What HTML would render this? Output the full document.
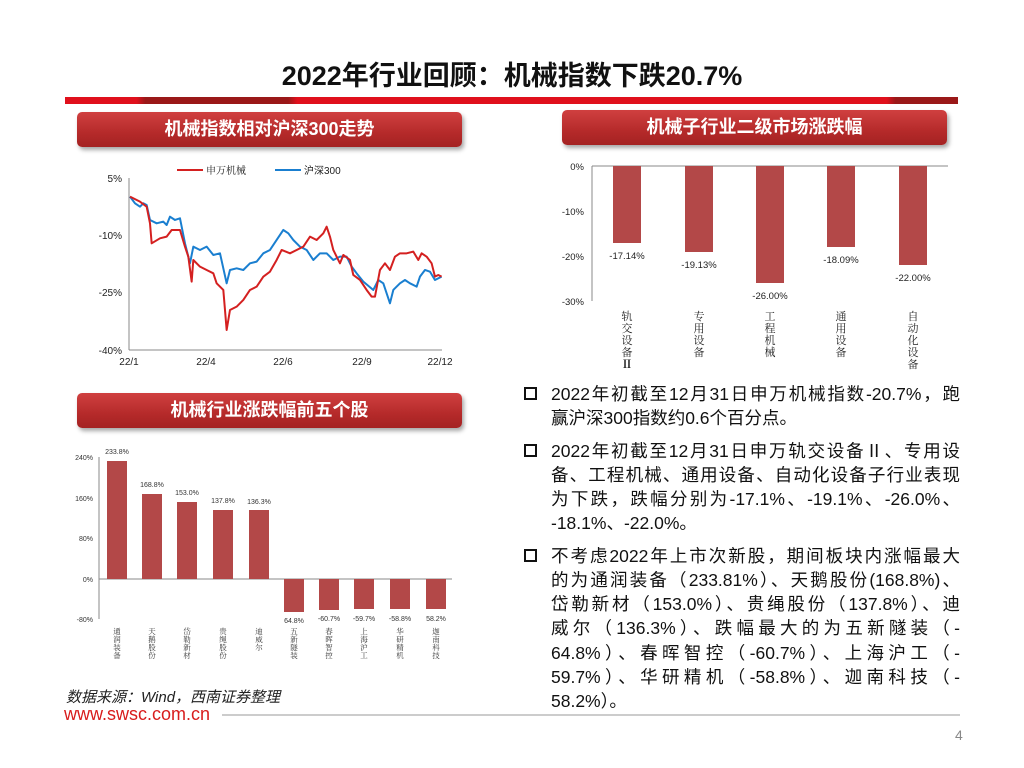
<!DOCTYPE html>
<html><head><meta charset="utf-8"><style>
body{margin:0;width:1024px;height:768px;background:#fff;position:relative;overflow:hidden;font-family:"Liberation Sans","Noto Sans CJK SC",sans-serif}
.a{position:absolute;white-space:nowrap}
.box{position:absolute;height:35px;border-radius:5px;background:linear-gradient(#d04040,#b52a2a 60%,#a42222);box-shadow:2px 3px 4px rgba(0,0,0,.35);color:#fff;font-weight:bold;font-size:18px;text-align:center;line-height:35px}
.ln{position:absolute;left:551px;width:409px;font-size:17.5px;color:#111;line-height:24px;height:24px;text-align:justify;text-align-last:justify;white-space:nowrap}
.ln.l{text-align-last:left}
.bul{position:absolute;left:524px;width:9px;height:9px;border:2px solid #111}
</style></head><body>
<div class="a" style="left:0;width:1024px;top:54px;text-align:center;font-size:27px;font-weight:bold;color:#111">2022年行业回顾：机械指数下跌20.7%</div>
<div class="a" style="left:65px;top:97px;width:893px;height:7px;background:linear-gradient(90deg,#e0101c 0,#e0101c 8%,#9a1818 9%,#9a1818 25%,#e0101c 26%,#e0101c 92%,#9a1818 93%)"></div>

<div class="box" style="left:77px;top:112px;width:385px">机械指数相对沪深300走势</div>
<div class="box" style="left:562px;top:110px;width:385px">机械子行业二级市场涨跌幅</div>
<div class="box" style="left:77px;top:393px;width:385px">机械行业涨跌幅前五个股</div>

<svg class="a" style="left:0;top:0" width="1024" height="768">
<!-- line chart -->
<g font-size="10" fill="#222" font-family="Liberation Sans,sans-serif">
<line x1="129" y1="178" x2="129" y2="350" stroke="#888"/>
<line x1="129" y1="350" x2="442" y2="350" stroke="#888"/>
<text x="122" y="182" text-anchor="end">5%</text>
<text x="122" y="239" text-anchor="end">-10%</text>
<text x="122" y="296" text-anchor="end">-25%</text>
<text x="122" y="354" text-anchor="end">-40%</text>
<text x="129" y="365" text-anchor="middle">22/1</text>
<text x="206" y="365" text-anchor="middle">22/4</text>
<text x="283" y="365" text-anchor="middle">22/6</text>
<text x="362" y="365" text-anchor="middle">22/9</text>
<text x="440" y="365" text-anchor="middle">22/12</text>
<line x1="177" y1="170" x2="203" y2="170" stroke="#d42020" stroke-width="2"/>
<text x="206" y="174" font-family="Noto Serif CJK SC,serif">申万机械</text>
<line x1="275" y1="170" x2="301" y2="170" stroke="#1a7fd0" stroke-width="2"/>
<text x="304" y="174">沪深300</text>
</g>
<g transform="translate(60,90) scale(0.3333)" fill="none" stroke-width="6" stroke-linejoin="round">
<polyline stroke="#1a7fd0" points="210,320 225,340 240,350 250,340 260,345 270,390 290,400 310,395 320,405 330,380 345,390 360,385 375,460 390,520 400,470 420,480 440,470 460,495 480,490 500,580 510,540 530,535 550,540 570,520 590,515 610,490 630,480 650,450 670,420 685,430 700,450 720,470 740,480 760,510 780,490 800,490 820,510 840,500 860,500 875,530 890,550 910,575 940,600 955,570 970,580 990,640 1000,600 1020,580 1035,570 1050,580 1070,590 1080,560 1095,540 1110,545 1125,570 1145,560"/>
<polyline stroke="#d42020" points="210,320 240,335 260,350 270,400 275,460 300,445 320,440 335,420 360,420 375,470 385,500 395,575 400,510 420,530 440,540 460,550 470,580 490,600 500,720 505,690 510,660 530,650 550,630 570,600 590,590 610,560 630,545 650,510 665,480 690,490 710,480 730,470 750,440 770,450 790,430 800,410 810,440 820,480 830,500 840,520 850,495 870,510 880,555 900,570 920,600 935,620 945,620 960,540 975,520 990,540 1005,500 1020,490 1040,490 1060,485 1075,510 1085,490 1100,500 1115,520 1125,560 1135,555 1145,560"/>
</g>

<!-- right bar chart -->
<g font-size="9.5" fill="#222" font-family="Liberation Sans,sans-serif">
<line x1="592" y1="166" x2="592" y2="301" stroke="#888"/>
<line x1="592" y1="166" x2="948" y2="166" stroke="#888"/>
<text x="584" y="170" text-anchor="end">0%</text>
<text x="584" y="215" text-anchor="end">-10%</text>
<text x="584" y="260" text-anchor="end">-20%</text>
<text x="584" y="305" text-anchor="end">-30%</text>
<g fill="#b34848">
<rect x="613" y="166" width="28" height="77"/>
<rect x="685" y="166" width="28" height="86"/>
<rect x="756" y="166" width="28" height="117"/>
<rect x="827" y="166" width="28" height="81"/>
<rect x="899" y="166" width="28" height="99"/>
</g>
<text x="627" y="259" text-anchor="middle">-17.14%</text>
<text x="699" y="268" text-anchor="middle">-19.13%</text>
<text x="770" y="299" text-anchor="middle">-26.00%</text>
<text x="841" y="263" text-anchor="middle">-18.09%</text>
<text x="913" y="281" text-anchor="middle">-22.00%</text>
<g font-size="11" text-anchor="middle" font-family="Noto Serif CJK SC,serif">
<text x="627" y="320">轨</text><text x="627" y="332">交</text><text x="627" y="344">设</text><text x="627" y="356">备</text><text x="627" y="368" font-weight="bold">Ⅱ</text>
<text x="699" y="320">专</text><text x="699" y="332">用</text><text x="699" y="344">设</text><text x="699" y="356">备</text>
<text x="770" y="320">工</text><text x="770" y="332">程</text><text x="770" y="344">机</text><text x="770" y="356">械</text>
<text x="841" y="320">通</text><text x="841" y="332">用</text><text x="841" y="344">设</text><text x="841" y="356">备</text>
<text x="913" y="320">自</text><text x="913" y="332">动</text><text x="913" y="344">化</text><text x="913" y="356">设</text><text x="913" y="368">备</text>
</g>
</g>

<!-- bottom-left bar chart -->
<g font-size="7" fill="#333" font-family="Liberation Sans,sans-serif">
<line x1="99" y1="457" x2="99" y2="619" stroke="#888"/>
<line x1="99" y1="579" x2="452" y2="579" stroke="#888"/>
<text x="93" y="460" text-anchor="end">240%</text>
<text x="93" y="501" text-anchor="end">160%</text>
<text x="93" y="541" text-anchor="end">80%</text>
<text x="93" y="582" text-anchor="end">0%</text>
<text x="93" y="622" text-anchor="end">-80%</text>
<g fill="#b34848">
<rect x="107" y="461" width="20" height="118"/>
<rect x="142" y="494" width="20" height="85"/>
<rect x="177" y="502" width="20" height="77"/>
<rect x="213" y="510" width="20" height="69"/>
<rect x="249" y="510" width="20" height="69"/>
<rect x="284" y="579" width="20" height="33"/>
<rect x="319" y="579" width="20" height="31"/>
<rect x="354" y="579" width="20" height="30"/>
<rect x="390" y="579" width="20" height="30"/>
<rect x="426" y="579" width="20" height="30"/>
</g>
<g text-anchor="middle">
<text x="117" y="454">233.8%</text>
<text x="152" y="487">168.8%</text>
<text x="187" y="495">153.0%</text>
<text x="223" y="503">137.8%</text>
<text x="259" y="504">136.3%</text>
<text x="294" y="623">64.8%</text>
<text x="329" y="621">-60.7%</text>
<text x="364" y="621">-59.7%</text>
<text x="400" y="621">-58.8%</text>
<text x="436" y="621">58.2%</text>
</g>
<g text-anchor="middle" font-size="7.5" font-family="Noto Serif CJK SC,serif">
<text x="117" y="634">通</text><text x="117" y="642">润</text><text x="117" y="650">装</text><text x="117" y="658">备</text>
<text x="152" y="634">天</text><text x="152" y="642">鹅</text><text x="152" y="650">股</text><text x="152" y="658">份</text>
<text x="187" y="634">岱</text><text x="187" y="642">勒</text><text x="187" y="650">新</text><text x="187" y="658">材</text>
<text x="223" y="634">贵</text><text x="223" y="642">绳</text><text x="223" y="650">股</text><text x="223" y="658">份</text>
<text x="259" y="634">迪</text><text x="259" y="642">威</text><text x="259" y="650">尔</text>
<text x="294" y="634">五</text><text x="294" y="642">新</text><text x="294" y="650">隧</text><text x="294" y="658">装</text>
<text x="329" y="634">春</text><text x="329" y="642">晖</text><text x="329" y="650">智</text><text x="329" y="658">控</text>
<text x="364" y="634">上</text><text x="364" y="642">海</text><text x="364" y="650">沪</text><text x="364" y="658">工</text>
<text x="400" y="634">华</text><text x="400" y="642">研</text><text x="400" y="650">精</text><text x="400" y="658">机</text>
<text x="436" y="634">迦</text><text x="436" y="642">南</text><text x="436" y="650">科</text><text x="436" y="658">技</text>
</g>
</g>
<line x1="222" y1="715" x2="960" y2="715" stroke="#ccc" stroke-width="2"/>
</svg>

<div class="a" style="left:66px;top:686px;font-size:15px;font-style:italic;color:#222">数据来源：Wind，西南证券整理</div>
<div class="a" style="left:64px;top:704px;font-size:18px;color:#d81c1c;background:#fff;padding-right:2px">www.swsc.com.cn</div>
<div class="a" style="left:955px;top:727px;font-size:14px;color:#888">4</div>

<div class="bul" style="top:387px"></div>
<div class="ln" style="top:382px">2022年初截至12月31日申万机械指数-20.7%，跑</div>
<div class="ln l" style="top:406px">赢沪深300指数约0.6个百分点。</div>
<div class="bul" style="top:444px"></div>
<div class="ln" style="top:439px">2022年初截至12月31日申万轨交设备Ⅱ、专用设</div>
<div class="ln" style="top:463px">备、工程机械、通用设备、自动化设备子行业表现</div>
<div class="ln" style="top:487px">为下跌，跌幅分别为-17.1%、-19.1%、-26.0%、</div>
<div class="ln l" style="top:511px">-18.1%、-22.0%。</div>
<div class="bul" style="top:549px"></div>
<div class="ln" style="top:544px">不考虑2022年上市次新股，期间板块内涨幅最大</div>
<div class="ln" style="top:568px">的为通润装备（233.81%）、天鹅股份(168.8%)、</div>
<div class="ln" style="top:592px">岱勒新材（153.0%）、贵绳股份（137.8%）、迪</div>
<div class="ln" style="top:616px">威尔（136.3%）、跌幅最大的为五新隧装（-</div>
<div class="ln" style="top:641px">64.8%）、春晖智控（-60.7%）、上海沪工（-</div>
<div class="ln" style="top:665px">59.7%）、华研精机（-58.8%）、迦南科技（-</div>
<div class="ln l" style="top:689px">58.2%）。</div>
</body></html>
